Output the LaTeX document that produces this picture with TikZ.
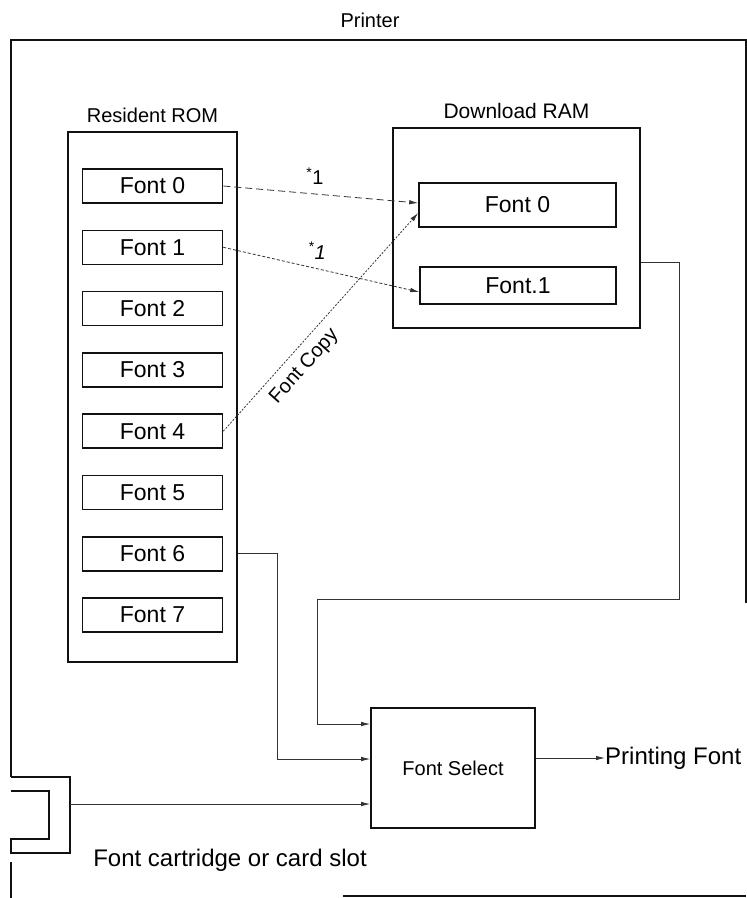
\documentclass[tikz,border=0pt]{standalone}
\usepackage{fontspec}
\setmainfont{Liberation Sans}
\usepackage{tikz}
\usetikzlibrary{arrows.meta,positioning}
\definecolor{prink}{HTML}{111111}
\definecolor{prwire}{HTML}{333333}
\tikzset{
    membox/.style={rectangle, draw=prink, line width=1.6pt, inner sep=0pt},
    fontbox/.style={membox, minimum width=140pt, minimum height=34pt,
        font=\fontsize{23}{26}\selectfont},
    memlabel/.style={font=\fontsize{20}{24}\selectfont, inner sep=0pt},
    framepart/.style={draw=prink, line width=1.6pt},
    wire/.style={draw=prwire, line width=0.8pt},
    wirearrow/.style={wire, -{Latex[length=9pt,width=4.5pt]}},
}

\begin{document}
\begin{tikzpicture}[x=1pt, y=-1pt, node distance=25.7pt]
    \useasboundingbox (0,0) rectangle (747,898);

    % ── Printer frame ──────────────────────────────────────────────────────
    \node[memlabel] (printer) at (370,20) {Printer};
    \draw[framepart] (11,777) -- (11,40) -- (746,40) -- (746,603);
    \draw[framepart] (343,896) -- (746,896);
    \draw[framepart] (11,862) -- (11,898);

    % ── Cartridge / card slot ──────────────────────────────────────────────
    \draw[framepart] (11,777) -- (70,777) -- (70,853) -- (11,853)
        -- (11,839) -- (49,839) -- (49,791) -- (11,791);
    \coordinate (slot) at (70,804);
    \node[font=\fontsize{24}{28}\selectfont, inner sep=0pt] (slotlabel)
        at (230,860) {Font cartridge or card slot};

    % ── Resident ROM ───────────────────────────────────────────────────────
    \node[membox, minimum width=169pt, minimum height=530pt] (rom)
        at (152.5,397) {};
    \node[memlabel, above=8pt of rom] (romlabel) {Resident ROM};

    \node[fontbox] (rf0) at (152.5,186) {Font 0};
    \node[fontbox, below=of rf0] (rf1) {Font 1};
    \node[fontbox, below=of rf1] (rf2) {Font 2};
    \node[fontbox, below=of rf2] (rf3) {Font 3};
    \node[fontbox, below=of rf3] (rf4) {Font 4};
    \node[fontbox, below=of rf4] (rf5) {Font 5};
    \node[fontbox, below=of rf5] (rf6) {Font 6};
    \node[fontbox, below=of rf6] (rf7) {Font 7};

    % ── Download RAM ───────────────────────────────────────────────────────
    \node[membox, minimum width=247pt, minimum height=200pt] (ram)
        at (516.5,228) {};
    \node[memlabel, font=\fontsize{21}{24}\selectfont, above=8pt of ram]
        (ramlabel) {Download RAM};

    \node[fontbox, minimum width=197pt, minimum height=44pt] (wf0)
        at (517.5,205) {Font 0};
    \node[fontbox, minimum width=196pt, minimum height=37pt] (wf1)
        at (518,285.5) {Font.1};

    % ── Font select ────────────────────────────────────────────────────────
    \node[membox, minimum width=164pt, minimum height=120pt,
          font=\fontsize{20}{24}\selectfont] (fsel) at (453,768) {Font Select};
    \node[font=\fontsize{24}{28}\selectfont, inner sep=0pt, anchor=west]
        (pfont) at (605,758) {Printing Font};

    % ── Downloads ──────────────────────────────────────────────────────────
    \draw[wirearrow, dash pattern=on 7pt off 4pt] (rf0.east) -- ([yshift=2pt]wf0.west)
        node[memlabel, pos=0.47, above=9pt] (copyone) {\textsuperscript{*}1};
    \draw[wirearrow, dash pattern=on 3pt off 2pt] (rf1.east) -- ([yshift=-6.5pt]wf1.west)
        node[memlabel, pos=0.48, above=9pt] (copytwo) {\textsuperscript{*}\textit{1}};
    \draw[wirearrow, dash pattern=on 2pt off 1.5pt] (rf4.east) -- ([yshift=-8pt]wf0.west)
        node[memlabel, pos=0.35, sloped, below=8pt] (copylabel) {Font Copy};

    % ── Into font select ───────────────────────────────────────────────────
    \draw[wirearrow] ([yshift=-34pt]ram.east) -| (679,599)
        -| ([xshift=-53pt, yshift=44pt]fsel.west) -- ([yshift=44pt]fsel.west);
    \draw[wirearrow] (rom.east |- rf6) -- ++(40,0) |- ([yshift=9pt]fsel.west);
    \draw[wirearrow] (slot) -- (slot -| fsel.west);
    \draw[wirearrow] (fsel.east |- pfont.west) -- (pfont.west);

\end{tikzpicture}
\end{document}
